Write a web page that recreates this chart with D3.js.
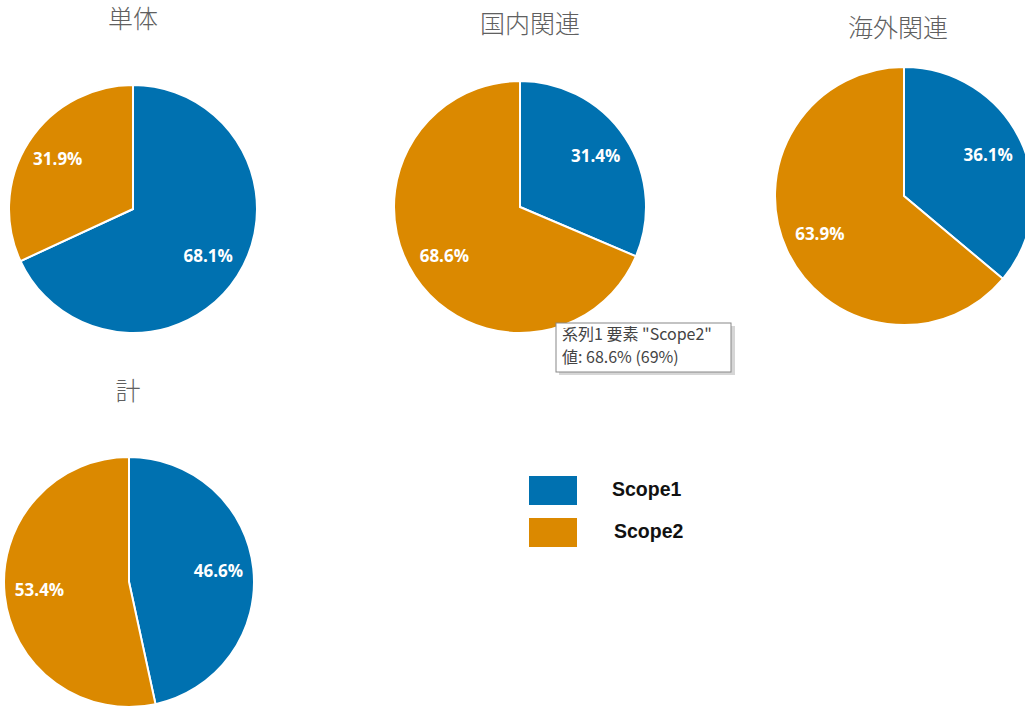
<!DOCTYPE html>
<html><head><meta charset="utf-8">
<script src="https://cdn.jsdelivr.net/npm/d3@7"></script>
<style>body{margin:0;background:#fff;overflow:hidden}</style>
</head><body>
<svg id="c" width="1025" height="711"></svg>
<script>
const series = ["Scope1","Scope2"];
const colors = ["#0071b0","#db8900"];
const titles = ["単体","国内関連","海外関連","計"];
const scope1 = [68.1, 31.4, 36.1, 46.6];
const scope2 = [31.9, 68.6, 63.9, 53.4];
const tooltipLines = ["系列1 要素 \"Scope2\"", "値: 68.6% (69%)"];

const layout = [
  {cx:133, cy:209, r:124, tx:133, ty:21},
  {cx:520, cy:207, r:126, tx:530, ty:26},
  {cx:904, cy:196, r:129, tx:898, ty:30},
  {cx:129, cy:582, r:125, tx:128, ty:393}
];
const svg = d3.select("#c");
const pie = d3.pie().sort(null).value(d=>d);
titles.forEach((t,i)=>{
  const L = layout[i];
  svg.append("text").attr("x",L.tx).attr("y",L.ty).attr("text-anchor","middle")
    .attr("dominant-baseline","middle").attr("font-family","'Noto Sans CJK JP'")
    .attr("font-size",25).attr("font-weight",300).attr("fill","#606060").text(t);
  const g = svg.append("g").attr("transform",`translate(${L.cx},${L.cy})`);
  const arcs = pie([scope1[i], scope2[i]]);
  const arc = d3.arc().innerRadius(0).outerRadius(L.r);
  const la = d3.arc().innerRadius(L.r*0.72).outerRadius(L.r*0.72);
  g.selectAll("path").data(arcs).join("path").attr("d",arc)
    .attr("fill",(d,j)=>colors[j]).attr("stroke","#fff").attr("stroke-width",2);
  g.selectAll("text").data(arcs).join("text")
    .attr("transform",d=>`translate(${la.centroid(d)})`)
    .attr("text-anchor","middle").attr("dominant-baseline","middle")
    .attr("font-family","'Open Sans', sans-serif").attr("font-weight","bold")
    .attr("font-size",17).attr("fill","#fff").text(d=>d.data.toFixed(1)+"%");
});
// legend
const lg = svg.append("g");
series.forEach((s,j)=>{
  lg.append("rect").attr("x",529).attr("y",476+j*42).attr("width",48).attr("height",29).attr("fill",colors[j]);
  lg.append("text").attr("x",612+j*2).attr("y",491+j*42).attr("dominant-baseline","middle")
    .attr("font-family","'Liberation Sans', Arial").attr("font-weight","bold").attr("font-size",19.5)
    .attr("fill","#111").text(s);
});
// tooltip
const tt = svg.append("g");
tt.append("rect").attr("x",559).attr("y",326).attr("width",176).attr("height",49).attr("fill","#bbb").attr("opacity",0.6);
tt.append("rect").attr("x",556).attr("y",323).attr("width",175).attr("height",49).attr("fill","#fff").attr("stroke","#888").attr("stroke-width",1);
tooltipLines.forEach((l,k)=>{
  tt.append("text").attr("x",562).attr("y",336+k*23).attr("dominant-baseline","middle")
    .attr("font-family","'Noto Sans CJK JP'").attr("font-size",16).attr("fill","#444").text(l);
});
</script>
</body></html>
